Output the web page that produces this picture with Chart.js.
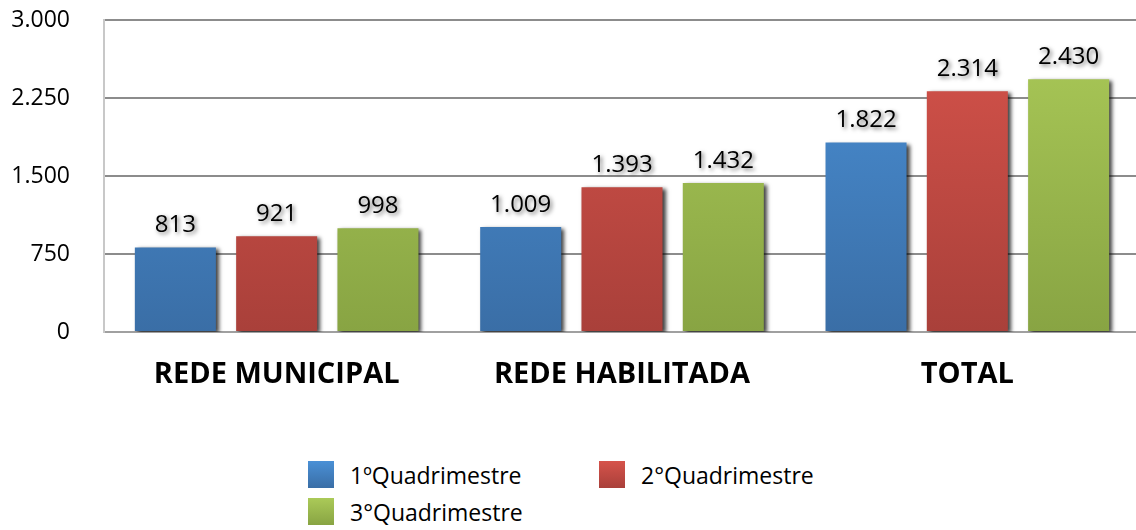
<!DOCTYPE html>
<html><head><meta charset="utf-8">
<script src="https://cdn.jsdelivr.net/npm/chart.js@4.4.1/dist/chart.umd.min.js"></script>
<style>
html,body{margin:0;padding:0;background:#fff;}
#wrap{position:relative;width:1136px;height:530px;overflow:hidden;}
#c{position:absolute;left:0;top:0;}
#legend{position:absolute;left:308px;top:461px;width:560px;font-family:"Open Sans",sans-serif;font-size:23px;color:#000;}
.li{position:absolute;display:flex;align-items:center;height:27px;}
.sw{width:26px;height:27px;margin-right:16px;flex:none;}
</style></head>
<body><div id="wrap"><canvas id="c" width="1140" height="400"></canvas><div id="legend"></div></div>
<script>
const categories = ["REDE MUNICIPAL", "REDE HABILITADA", "TOTAL"];
const seriesNames = ["1ºQuadrimestre", "2°Quadrimestre", "3°Quadrimestre"];
const q1 = [813, 1009, 1822];
const q2 = [921, 1393, 2314];
const q3 = [998, 1432, 2430];
const yTicks = [0, 750, 1500, 2250, 3000];
const colorsTop = ["#4a90d6", "#d6534b", "#abca58"];
const colorsBot = ["#3a6ea6", "#a9403a", "#88a443"];

const FONT = '"Open Sans", sans-serif';
function fmt(v){ return v.toLocaleString('de-DE'); }

function grad(ctx, chartArea, i){
  if(!chartArea) return colorsTop[i];
  const g = ctx.createLinearGradient(0, chartArea.top, 0, chartArea.bottom);
  g.addColorStop(0, colorsTop[i]);
  g.addColorStop(1, colorsBot[i]);
  return g;
}

const shadowPlugin = {
  id:'shadow',
  beforeDatasetsDraw(chart){
    const ctx = chart.ctx;
    ctx.save();
    ctx.shadowColor = 'rgba(0,0,0,0.75)';
    ctx.shadowBlur = 4;
    ctx.shadowOffsetX = 3;
    ctx.shadowOffsetY = 2;
  },
  afterDatasetsDraw(chart){
    const ctx = chart.ctx;
    ctx.restore();
    ctx.save();
    ctx.font = '24px ' + FONT;
    ctx.textAlign = 'center';
    ctx.textBaseline = 'middle';
    ctx.fillStyle = '#000';
    ctx.shadowColor = 'rgba(0,0,0,0.55)';
    ctx.shadowBlur = 4;
    ctx.shadowOffsetX = 2;
    ctx.shadowOffsetY = 2;
    chart.data.datasets.forEach((ds, di) => {
      chart.getDatasetMeta(di).data.forEach((bar, i) => {
        ctx.fillText(fmt(ds.data[i]), bar.x, bar.y - 22);
      });
    });
    ctx.restore();
  }
};

const dataArrays = [q1, q2, q3];
const chart = new Chart(document.getElementById('c'), {
  type:'bar',
  data:{
    labels: categories,
    datasets: dataArrays.map((d, i) => ({
      label: seriesNames[i],
      data: d,
      backgroundColor: (c) => grad(c.chart.ctx, c.chart.chartArea, i),
      borderWidth: 0,
      categoryPercentage: 0.88,
      barPercentage: 0.8
    }))
  },
  options:{
    responsive:false,
    animation:false,
    layout:{padding:{top:20, right:0, left:0, bottom:0}},
    plugins:{legend:{display:false}, tooltip:{enabled:false}},
    scales:{
      x:{
        afterFit(s){ s.height = 68; s.paddingLeft = 0; s.paddingRight = 0; },
        grid:{display:false, drawTicks:false},
        border:{color:'#a0a0a0', width:2},
        ticks:{font:{family:FONT, size:29, weight:'bold'}, color:'#000', padding:25}
      },
      y:{
        min:0, max:3000,
        afterBuildTicks(s){ s.ticks = yTicks.map(v => ({value:v})); },
        afterFit(s){ s.width = 104; s.paddingTop = 0; s.paddingBottom = 0; },
        grid:{color:'#8c8c8c', lineWidth:2, drawTicks:false},
        border:{color:'#c8c8c8', width:2},
        ticks:{font:{family:FONT, size:23}, color:'#000', padding:34, callback:(v)=>fmt(v)}
      }
    }
  },
  plugins:[shadowPlugin]
});

// legend from datasets
const lg = document.getElementById('legend');
const pos = [[0,0],[291,0],[0,37]];
seriesNames.forEach((n,i)=>{
  const d = document.createElement('div');
  d.className='li';
  d.style.left = pos[i][0]+'px'; d.style.top = pos[i][1]+'px';
  d.innerHTML = '<div class="sw" style="background:linear-gradient('+colorsTop[i]+','+colorsBot[i]+')"></div><span>'+n+'</span>';
  lg.appendChild(d);
});
</script></body></html>
